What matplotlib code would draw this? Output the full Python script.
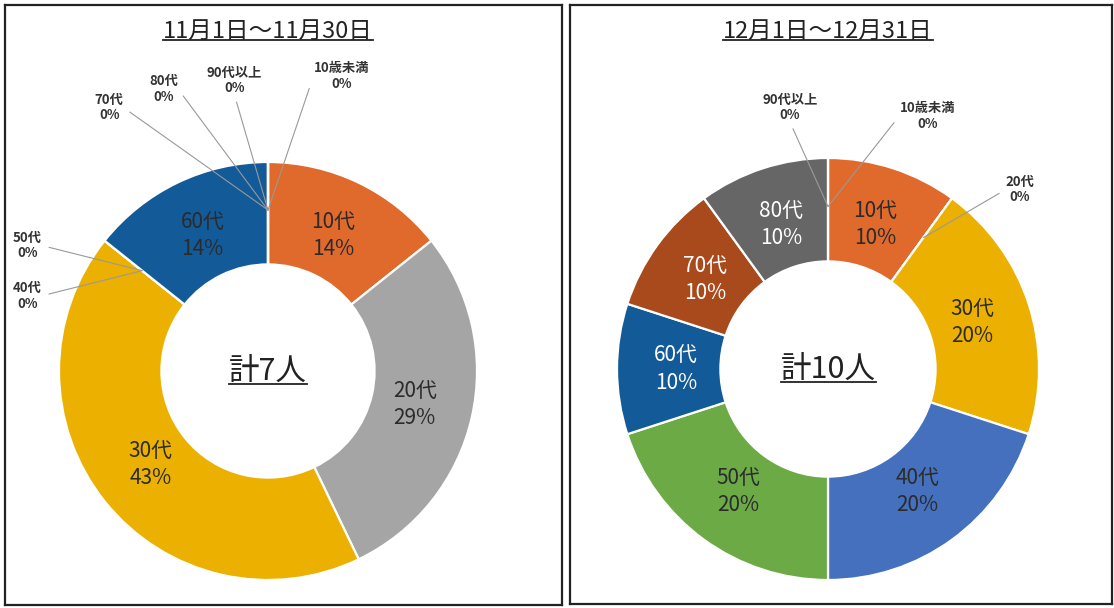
import matplotlib.pyplot as plt
from matplotlib.lines import Line2D
import numpy as np

plt.rcParams['font.family'] = ['Noto Sans CJK JP', 'DejaVu Sans']

# data
ages = ['10歳未満', '10代', '20代', '30代', '40代', '50代', '60代', '70代', '80代', '90代以上']
nov_counts = [0, 1, 2, 3, 0, 0, 1, 0, 0, 0]
dec_counts = [0, 1, 0, 2, 2, 2, 1, 1, 1, 0]
titles = ['11月1日～11月30日', '12月1日～12月31日']
totals_text = ['計{}人', '計{}人']

# styles
age_colors = ['#5B9BD5', '#E0692C', '#A5A5A5', '#EBB000', '#4470BE',
              '#6CAA45', '#135A98', '#A84A1C', '#666666', '#997300']
white_text = [set(), {'60代', '70代', '80代'}]

# layout in pixels: box (left, top, right, bottom), pie centre and radius
W, H = 1114, 608
boxes = [(5, 5, 562, 605), (570, 5, 1112, 604)]
centers = [(268, 371, 209), (828, 369, 211)]
# where the 0% labels sit (in units of the pie radius)
zero_pos = [
    {'10歳未満': (0.35, 1.41), '90代以上': (-0.16, 1.39), '80代': (-0.50, 1.35),
     '70代': (-0.76, 1.26), '50代': (-1.15, 0.60), '40代': (-1.15, 0.36)},
    {'90代以上': (-0.18, 1.24), '10歳未満': (0.47, 1.20), '20代': (0.91, 0.85)},
]

fig = plt.figure(figsize=(W / 100, H / 100), dpi=100)
fig.patch.set_facecolor('white')

underlined = []
for i, counts in enumerate([nov_counts, dec_counts]):
    x0, y0, x1, y1 = boxes[i]
    cx, cy, R = centers[i]
    ax = fig.add_axes([x0 / W, 1 - y1 / H, (x1 - x0) / W, (y1 - y0) / H])

    wedges, _ = ax.pie(counts, colors=age_colors, startangle=90, counterclock=False,
                       radius=1, wedgeprops=dict(width=0.49, edgecolor='white', linewidth=1.6))

    ax.set_xlim((x0 - cx) / R, (x1 - cx) / R)
    ax.set_ylim((cy - y1) / R, (cy - y0) / R)
    ax.set_aspect('auto')
    ax.set_frame_on(True)
    ax.set_xticks([])
    ax.set_yticks([])
    for sp in ax.spines.values():
        sp.set_color('#222222')
        sp.set_linewidth(1.6)

    total = sum(counts)
    for name, n, w in zip(ages, counts, wedges):
        mid = np.deg2rad((w.theta1 + w.theta2) / 2)
        if n > 0:
            r = 0.72
            col = 'white' if name in white_text[i] else '#2b2b2b'
            ax.text(r * np.cos(mid), r * np.sin(mid),
                    '{}\n{}%'.format(name, round(100 * n / total)),
                    ha='center', va='center', fontsize=15, color=col, linespacing=1.3)
        else:
            ax_, ay_ = 0.77 * np.cos(mid), 0.77 * np.sin(mid)
            tx, ty = zero_pos[i][name]
            if abs(tx - ax_) < 0.25:
                rel = (0.5, 0.0)
            elif tx > ax_:
                rel = (0.0, 0.5)
            else:
                rel = (1.0, 0.5)
            ax.annotate('{}\n0%'.format(name), xy=(ax_, ay_), xytext=(tx, ty),
                        ha='center', va='center', fontsize=9.5, fontweight='bold',
                        color='#333333', linespacing=1.15,
                        arrowprops=dict(arrowstyle='-', color='#999999', lw=0.8,
                                        relpos=rel, shrinkA=3, shrinkB=0))

    t = ax.text(0, (cy - 31) / R, titles[i], ha='center', va='center',
                fontsize=17, color='#222222')
    c = ax.text(0, 0, totals_text[i].format(total), ha='center', va='center',
                fontsize=22, color='#222222')
    underlined += [t, c]

fig.canvas.draw()
renderer = fig.canvas.get_renderer()
for t in underlined:
    bb = t.get_window_extent(renderer).transformed(fig.transFigure.inverted())
    fig.add_artist(Line2D([bb.x0, bb.x1], [bb.y0 + 0.004, bb.y0 + 0.004],
                          transform=fig.transFigure, color='#222222', lw=1.3))

plt.savefig('out.png', dpi=100, facecolor='white')
